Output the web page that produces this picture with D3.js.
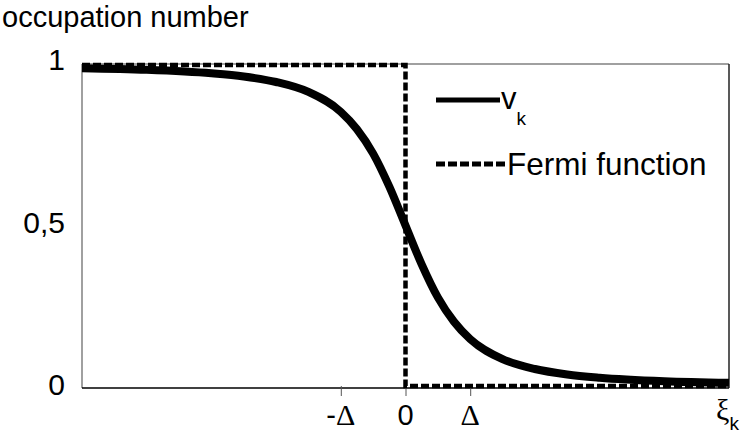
<!DOCTYPE html>
<html>
<head>
<meta charset="utf-8">
<script src="https://cdn.jsdelivr.net/npm/d3@7"></script>
<style>
  html, body { margin: 0; padding: 0; background: #fff; }
  svg { display: block; font-family: Arial, "Liberation Sans", sans-serif; }
  .greek { font-family: "Liberation Serif", "Times New Roman", serif; }
</style>
</head>
<body>
<svg id="chart" width="744" height="441"></svg>
<script>
// Energy axis in units of the gap Δ
const xi = [-5, -4, -3, -2.5, -2, -1.5, -1, -0.75, -0.5, -0.25, 0, 0.25, 0.5, 0.75, 1, 1.5, 2, 2.5, 3, 4, 5];
// Occupation v_k across the gap
const vk = [0.990, 0.985, 0.974, 0.964, 0.947, 0.916, 0.854, 0.800, 0.724, 0.621, 0.500, 0.379, 0.276, 0.200, 0.146, 0.084, 0.053, 0.036, 0.026, 0.015, 0.010];
// Step-shaped Fermi function at T = 0
const fermiX = [-5, 0, 0, 5];
const fermiY = [1, 1, 0, 0];
// Axis labels
const yTicks = [0, 0.5, 1];
const yTickLabels = ["0", "0,5", "1"];
const xTicks = [-1, 0, 1];
const xTickLabels = ["-\u0394", "0", "\u0394"];

const svg = d3.select("#chart");
const pLeft = 82, pRight = 729, pTop = 64, pBottom = 388;

const x = d3.scaleLinear().domain([-5, 5]).range([pLeft, pRight]);
const y = d3.scaleLinear().domain([0, 1]).range([pBottom - 2, pTop + 1]);
// baseline positions of the y tick labels
const yLab = d3.scaleLinear().domain([0, 1]).range([395, 70]);

// Frame: grey top/left, dark right, black baseline
svg.append("line").attr("x1", pLeft).attr("x2", pRight).attr("y1", pTop).attr("y2", pTop)
  .attr("stroke", "#808080").attr("stroke-width", 1.5);
svg.append("line").attr("x1", pRight).attr("x2", pRight).attr("y1", pTop).attr("y2", pBottom)
  .attr("stroke", "#222").attr("stroke-width", 1.5);
svg.append("line").attr("x1", pLeft).attr("x2", pLeft).attr("y1", pTop).attr("y2", pBottom)
  .attr("stroke", "#808080").attr("stroke-width", 1.5);

const xAxis = d3.axisBottom(x).tickValues(xTicks).tickSize(8).tickFormat("");
const gx = svg.append("g").attr("transform", `translate(0,${pBottom})`).call(xAxis);
gx.select(".domain").attr("d", `M${pLeft},0H${pRight}`).attr("stroke", "#000").attr("stroke-width", 1.5);
gx.selectAll(".tick line").attr("stroke", "#555").attr("y1", -2).attr("y2", 8);

// x tick labels: minus sign in sans, Δ in serif
const xt = svg.selectAll("text.xt").data(xTicks).join("text")
  .attr("class", "xt")
  .attr("x", d => x(d))
  .attr("y", pBottom + 37)
  .attr("text-anchor", "middle")
  .attr("font-size", 29);
xt.each(function(d, i) {
  const t = d3.select(this);
  const s = xTickLabels[i];
  for (const ch of s) {
    t.append("tspan").attr("class", ch === "\u0394" ? "greek" : null)
      .attr("font-size", ch === "\u0394" ? 30 : 29).text(ch);
  }
});

// y tick labels
svg.selectAll("text.yt").data(yTicks).join("text")
  .attr("class", "yt")
  .attr("x", pLeft - 17)
  .attr("y", d => yLab(d))
  .attr("text-anchor", "end")
  .attr("font-size", 30)
  .text((d, i) => yTickLabels[i]);

// Fermi step
const lineF = d3.line().x(d => x(d[0])).y(d => y(d[1]));
svg.append("path")
  .datum(fermiX.map((d, i) => [d, fermiY[i]]))
  .attr("d", lineF)
  .attr("fill", "none").attr("stroke", "#000")
  .attr("stroke-width", 4.5).attr("stroke-dasharray", "8,3");

// v_k curve
const lineV = d3.line().x(d => x(d[0])).y(d => y(d[1])).curve(d3.curveMonotoneX);
svg.append("path")
  .datum(xi.map((d, i) => [d, vk[i]]))
  .attr("d", lineV)
  .attr("fill", "none").attr("stroke", "#000").attr("stroke-width", 8)
  .attr("stroke-linecap", "butt");

// Legend
svg.append("line").attr("x1", 436).attr("x2", 500).attr("y1", 100).attr("y2", 100)
  .attr("stroke", "#000").attr("stroke-width", 5);
const tv = svg.append("text").attr("x", 501).attr("y", 109).attr("font-size", 31);
tv.append("tspan").text("v");
tv.append("tspan").attr("dy", 16).attr("dx", 0).attr("font-size", 19).text("k");

svg.append("line").attr("x1", 436).attr("x2", 507).attr("y1", 164).attr("y2", 164)
  .attr("stroke", "#000").attr("stroke-width", 5).attr("stroke-dasharray", "9,3");
svg.append("text").attr("x", 507).attr("y", 175).attr("font-size", 31.5).text("Fermi function");

// Axis titles
svg.append("text").attr("x", 2).attr("y", 27).attr("font-size", 29).text("occupation number");
const tx = svg.append("text").attr("x", 716).attr("y", 420).attr("font-size", 30);
tx.append("tspan").attr("class", "greek").text("\u03BE");
tx.append("tspan").attr("dy", 10).attr("font-size", 19).text("k");
</script>
</body>
</html>
